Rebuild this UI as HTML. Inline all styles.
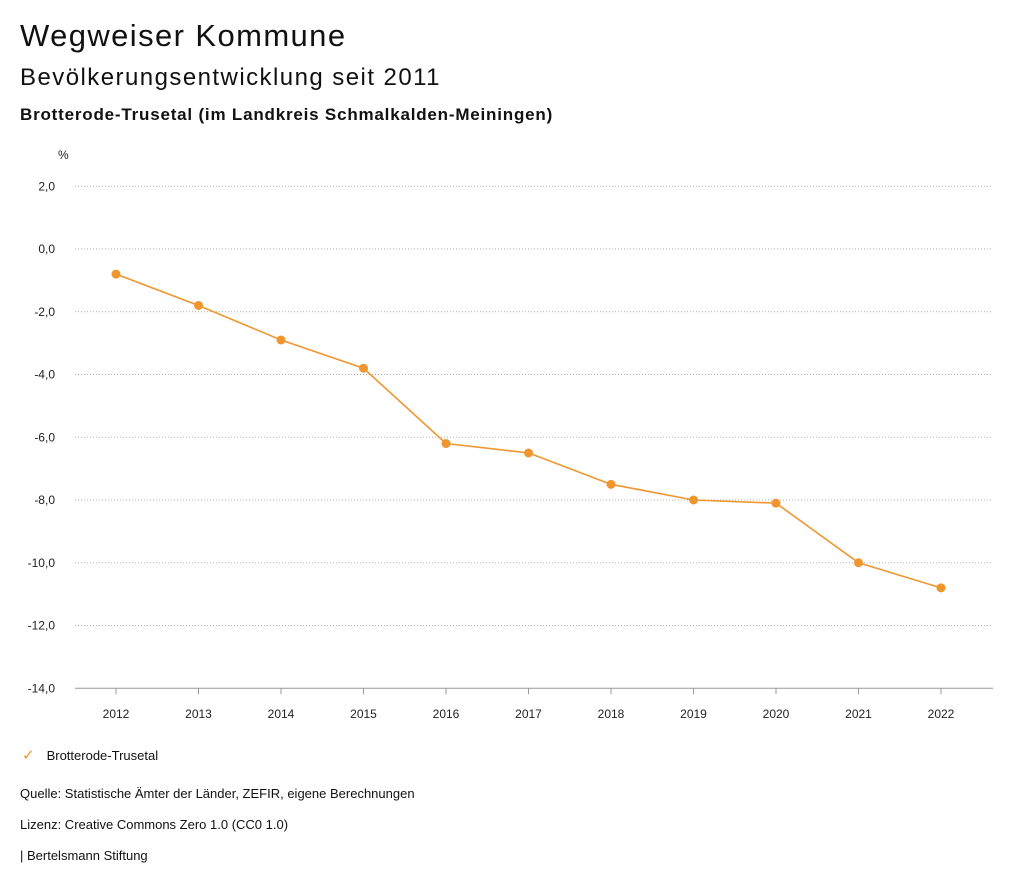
<!DOCTYPE html>
<html><head><meta charset="utf-8"><style>
body{margin:0;width:1024px;height:888px;background:#fff;font-family:"Liberation Sans",sans-serif;color:#111;position:relative;overflow:hidden}
.t{position:absolute;white-space:nowrap}
</style></head><body>
<div class="t" style="left:20px;top:18px;font-size:31px;letter-spacing:1.4px">Wegweiser Kommune</div>
<div class="t" style="left:20px;top:64px;font-size:24px;letter-spacing:1.45px">Bevölkerungsentwicklung seit 2011</div>
<div class="t" style="left:20px;top:105px;font-size:17px;font-weight:bold;letter-spacing:0.8px">Brotterode-Trusetal (im Landkreis Schmalkalden-Meiningen)</div>
<svg id="chart" width="1024" height="740" style="position:absolute;left:0;top:0" font-family="Liberation Sans, sans-serif"></svg>
<div class="t" style="left:22px;top:746px;font-size:13px"><span style="color:#f0962f;font-size:15px;margin-right:12px">✓</span>Brotterode-Trusetal</div>
<div class="t" style="left:20px;top:786px;font-size:13px">Quelle: Statistische Ämter der Länder, ZEFIR, eigene Berechnungen</div>
<div class="t" style="left:20px;top:817px;font-size:13px">Lizenz: Creative Commons Zero 1.0 (CC0 1.0)</div>
<div class="t" style="left:20px;top:848px;font-size:13px">| Bertelsmann Stiftung</div>
<script>
const years=[2012,2013,2014,2015,2016,2017,2018,2019,2020,2021,2022];
const values=[-0.8,-1.8,-2.9,-3.8,-6.2,-6.5,-7.5,-8.0,-8.1,-10.0,-10.8];
const yTicks=[2,0,-2,-4,-6,-8,-10,-12,-14];
const NS="http://www.w3.org/2000/svg";
const svg=document.getElementById('chart');
const y=v=>249-v*31.375;
const x=i=>116+i*82.5;
function el(t,a){const e=document.createElementNS(NS,t);for(const k in a)e.setAttribute(k,a[k]);svg.appendChild(e);return e;}
let u=el('text',{x:58,y:159,'font-size':12,fill:'#222'});u.textContent='%';


yTicks.forEach(v=>{
 const g=el('line',{x1:75,x2:993,y1:y(v),y2:y(v),stroke:v===-14?'#999':'#aaa','stroke-dasharray':v===-14?'':'1,2'});
 
 
 const t=el('text',{x:55,y:y(v)+4,'font-size':12,fill:'#222','text-anchor':'end'});
 t.textContent=v.toFixed(1).replace('.',',');
 
 
});
years.forEach((yr,i)=>{
 const k=el('line',{x1:x(i),x2:x(i),y1:y(-14),y2:y(-14)+6,stroke:'#999'});
 
 
 const t=el('text',{x:x(i),y:718,'font-size':12,fill:'#222','text-anchor':'middle'});
 t.textContent=yr;
 
 
});
const line=el('polyline',{points:values.map((v,i)=>x(i)+','+y(v)).join(' '),fill:'none',stroke:'#f0962f','stroke-width':1.6});


values.forEach((v,i)=>{
 const c=el('circle',{cx:x(i),cy:y(v),r:4.5,fill:'#f0962f'});
 
 
});
</script>
</body></html>
